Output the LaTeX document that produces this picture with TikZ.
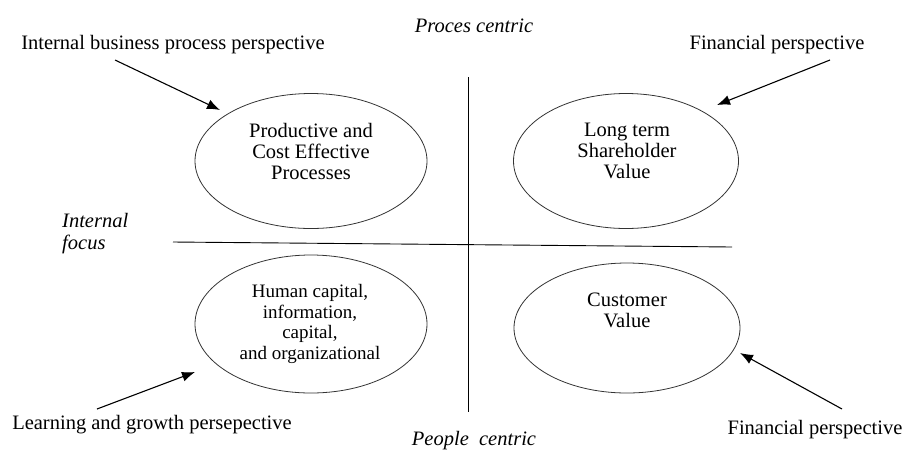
\documentclass[tikz,border=0pt]{standalone}
\usepackage{fontspec}
\setmainfont{Liberation Serif}
\usetikzlibrary{arrows,arrows.meta,shapes.geometric}
\tikzset{>={Latex[length=13pt,width=10pt]}}

\begin{document}
\begin{tikzpicture}[x=1pt,y=-1pt,
  bubble/.style={draw,ellipse,line width=0.8,color=black!80,inner sep=0},
  inside/.style={align=center,font=\fontsize{20.5}{21}\selectfont,inner sep=0},
  persp/.style={font=\fontsize{20.5}{24}\selectfont,inner sep=0}]
  \useasboundingbox (0,0) rectangle (905,451);

  % Axes
  \node[persp,font=\fontsize{20.5}{24}\selectfont\itshape] (proc) at (474,26) {Proces centric};
  \node[persp,font=\fontsize{20.5}{24}\selectfont\itshape] (people) at (474,441) {People\ \ centric};
  \node[persp,font=\fontsize{20.5}{22}\selectfont\itshape,align=left,anchor=west] (focus) at (62,234) {Internal\\focus};
  \coordinate (vtop) at (468,77);
  \coordinate (vbot) at (468,412);
  \coordinate (hleft) at (173,242);
  \coordinate (hright) at (732,247);
  \draw[line width=0.9] (vtop) -- (vbot);
  \draw[line width=0.9] (hleft) -- (hright);

  % Quadrants
  \node[bubble,minimum width=232,minimum height=135] (proces) at (311,161) {};
  \node[inside] (procesT) at (311,151) {Productive and\\Cost Effective\\Processes};
  \node[bubble,minimum width=225,minimum height=135] (share) at (626,161) {};
  \node[inside] (shareT) at (627,151) {Long term\\Shareholder\\Value};
  \node[bubble,minimum width=232,minimum height=138] (human) at (311,324) {};
  \node[inside,font=\fontsize{19}{20.7}\selectfont] (humanT) at (310,324) {Human capital,\\information,\\capital,\\and organizational};
  \node[bubble,minimum width=226,minimum height=130] (cust) at (627,328) {};
  \node[inside] (custT) at (627,310) {Customer\\Value};

  % Perspectives
  \node[persp] (ibp) at (173,45) {Internal business process perspective};
  \node[persp] (fin) at (777,45) {Financial perspective};
  \node[persp] (learn) at (152,425) {Learning and growth persepective};
  \node[persp] (fin2) at (815,430) {Financial perspective};
  \coordinate (ibpA) at (115,60);  \coordinate (ibpB) at (220,110);
  \coordinate (finA) at (830,60);  \coordinate (finB) at (717,105);
  \coordinate (learnA) at (97,409); \coordinate (learnB) at (195,372);
  \coordinate (fin2A) at (842,409); \coordinate (fin2B) at (740,353);
  \draw[->,line width=1.1] (ibpA) -- (ibpB);
  \draw[->,line width=1.1] (finA) -- (finB);
  \draw[->,line width=1.1] (learnA) -- (learnB);
  \draw[->,line width=1.1] (fin2A) -- (fin2B);
\end{tikzpicture}
\end{document}
